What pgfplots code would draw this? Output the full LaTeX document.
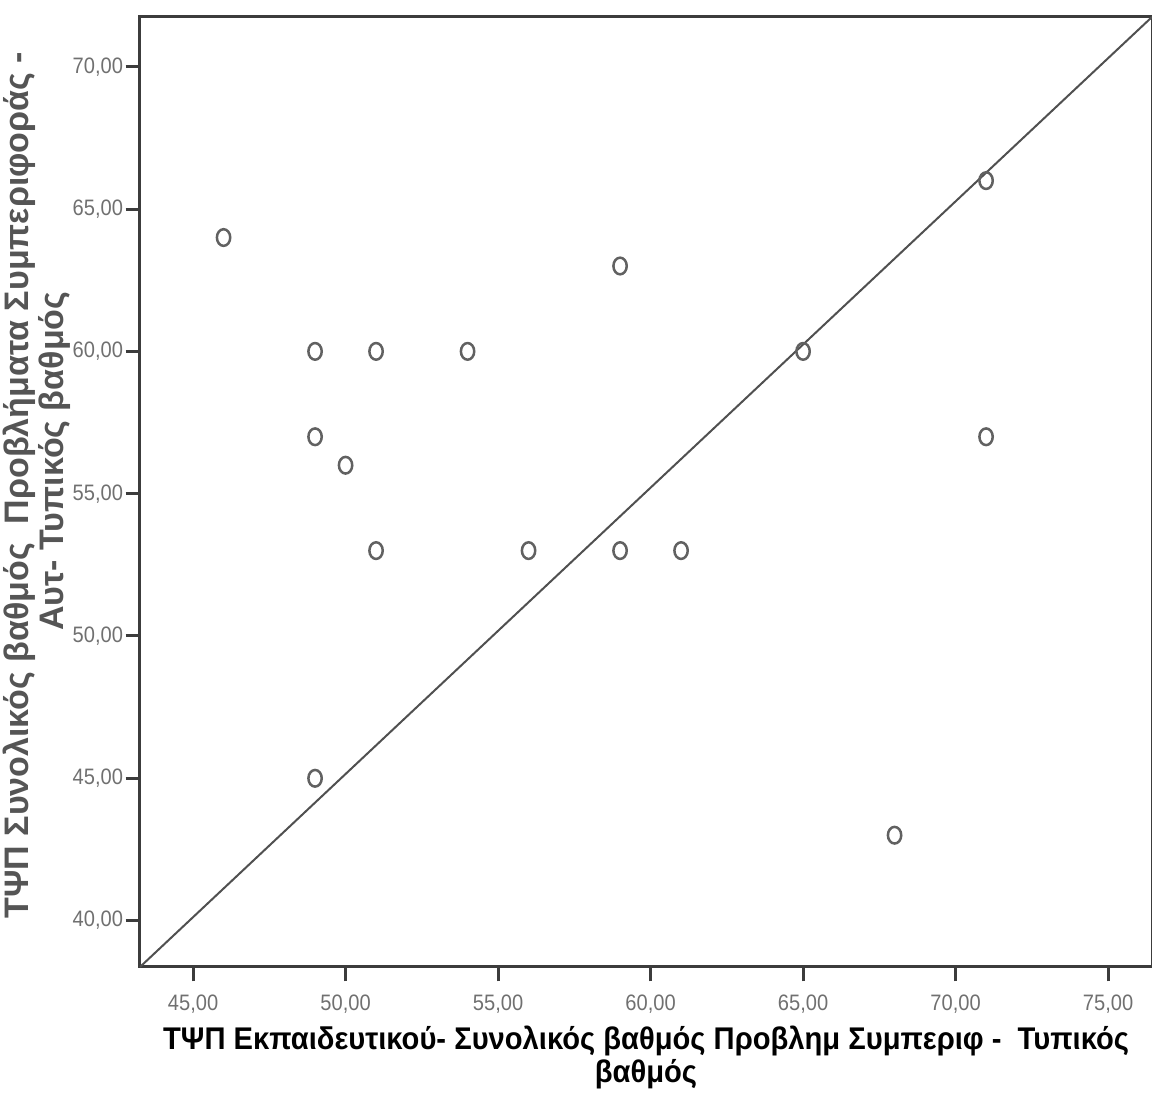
\documentclass[border=0pt]{standalone}
\usepackage{pgfplots}
\pgfplotsset{compat=1.18}
\usepackage{fontspec}
\setmainfont{Liberation Sans}
\newfontfamily\narrowfont[FakeStretch=0.9]{Liberation Sans}
\newfontfamily\narrowbold[FakeStretch=0.93]{Liberation Sans Bold}
\definecolor{tickgray}{HTML}{707070}
\definecolor{labgray}{HTML}{555555}
\definecolor{axgray}{HTML}{3C3C3C}
\begin{document}
\begin{tikzpicture}
\begin{axis}[
  scale only axis,
  width=303.6pt, height=285pt,
  xmin=43.26, xmax=76.44, ymin=38.37, ymax=71.75,
  xtick={45,50,...,75}, ytick={40,45,...,70},
  xtick pos=bottom, ytick pos=left,
  tick align=outside,
  major tick length=4.3pt,
  axis line style={axgray, line width=0.9pt},
  every tick/.style={axgray, line width=0.9pt},
  /pgf/number format/assume math mode=true,
  /pgf/number format/.cd, fixed, fixed zerofill, precision=2, use comma,
  /pgfplots/.cd,
  ticklabel style={font=\narrowfont\fontsize{6.7pt}{7pt}\selectfont, text=tickgray},
  yticklabel style={inner xsep=0.6pt},
  xticklabel style={yshift=-0.5pt},
  xlabel={ΤΨΠ Εκπαιδευτικού- Συνολικός βαθμός Προβλημ Συμπεριφ -\ \ Τυπικός\\βαθμός},
  xlabel style={font=\narrowbold\fontsize{9.4pt}{7.6pt}\selectfont, align=center,
    at={(axis description cs:0.5,0)}, anchor=north, inner sep=0pt, yshift=-17.5pt},
  ylabel={ΤΨΠ Συνολικός βαθμός\ \ Προβλήματα Συμπεριφοράς -\\\hspace*{14.5pt}Αυτ- Τυπικός βαθμός},
  ylabel style={font=\bfseries\fontsize{10.2pt}{8.9pt}\selectfont, align=center, text=labgray,
    at={(axis description cs:-0.068,0.507)}, anchor=south, inner sep=0pt},
  clip=false,
]
\addplot[axgray!90, line width=0.6pt] coordinates {(43.26,38.37) (76.44,71.75)};
\addplot[only marks, mark=o, mark size=2.5pt,
  mark options={xscale=0.8, line width=0.75pt, draw=black!62}]
coordinates {
(46,64) (49,60) (51,60) (54,60) (49,57) (50,56) (51,53) (56,53)
(59,53) (61,53) (59,63) (65,60) (71,66) (71,57) (49,45) (68,43)
};
\end{axis}
\pgfresetboundingbox
\useasboundingbox (-42pt,-37.8pt) rectangle (303.6pt,290.1pt);
\end{tikzpicture}
\end{document}
